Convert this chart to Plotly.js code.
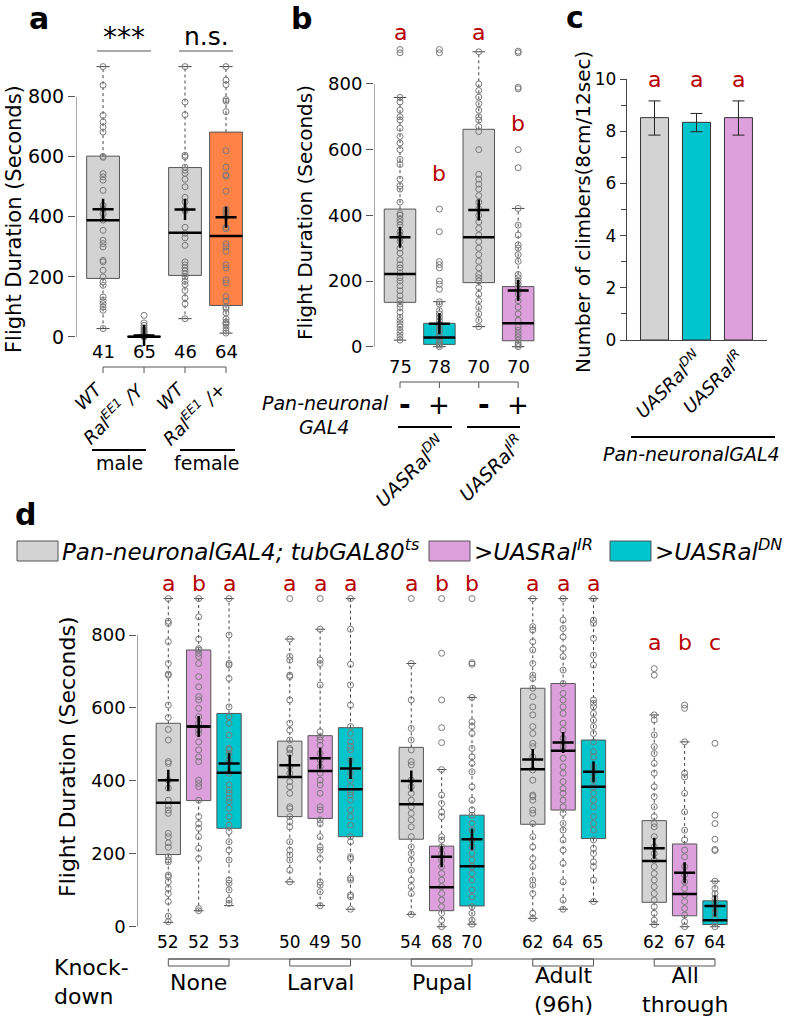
<!DOCTYPE html>
<html>
<head>
<meta charset="utf-8">
<script src="https://cdn.plot.ly/plotly-3.0.1.min.js"></script>
<style>
  html, body { margin: 0; padding: 0; background: #fff; }
  #fig { width: 787px; height: 1020px; }
</style>
</head>
<body>
<div id="fig"></div>
<script>
// ---- colours
const GRAY = '#d3d3d3', ORANGE = '#ff8247', CYAN = '#00c5cd', PLUM = '#dda0dd';
const RED = '#b80000';

// ---- panel a: flight duration, Ral EE1 mutants
const aPos = [1, 2, 3, 4];
const aN = [41, 65, 46, 64];
const aLabels = ['WT', 'Ral<sup>EE1</sup> /Y', 'WT', 'Ral<sup>EE1</sup> /+'];
const aColors = [GRAY, ORANGE, GRAY, ORANGE];
const aQ1 = [195, 0, 205, 105];
const aMed = [389, 1, 347, 336];
const aQ3 = [602, 3, 564, 682];
const aLo = [28, 0, 61, 13];
const aHi = [900, 8, 900, 900];
const aMean = [425, 5, 424, 399];
const aPts = [
  [900, 838, 738, 716, 699, 682, 601, 598, 544, 533, 522, 488, 438, 427, 410, 389, 355, 322, 311, 300, 255, 250, 222, 200, 183, 172, 133, 122, 111, 100, 89, 28],
  [72, 47, 39, 31, 25, 20, 16, 12, 9, 6, 4, 2, 1, 0],
  [900, 782, 740, 605, 600, 565, 555, 545, 525, 500, 465, 450, 425, 420, 365, 345, 330, 305, 250, 240, 230, 220, 210, 200, 185, 175, 155, 130, 110, 61],
  [900, 855, 840, 790, 785, 750, 620, 565, 540, 535, 485, 425, 415, 400, 365, 360, 310, 300, 285, 240, 230, 190, 180, 135, 120, 100, 95, 80, 60, 50, 45, 40, 30, 20, 13]
];

// ---- panel b: pan-neuronal Ral knock-down
const bPos = [1, 2, 3, 4];
const bN = [75, 78, 70, 70];
const bSigns = ['-', '+', '-', '+'];
const bLetters = ['a', 'b', 'a', 'b'];
const bColors = [GRAY, CYAN, GRAY, PLUM];
const bQ1 = [135, 7, 195, 18];
const bMed = [221, 28, 333, 71];
const bQ3 = [419, 71, 662, 183];
const bLo = [20, 0, 61, 0];
const bHi = [759, 137, 898, 421];
const bMean = [333, 70, 416, 171];
const bPts = [
  [905, 895, 759, 745, 720, 700, 690, 665, 640, 620, 600, 570, 555, 510, 490, 480, 440, 405, 400, 390, 380, 370, 350, 340, 330, 320, 300, 285, 265, 250, 240, 225, 210, 200, 185, 170, 155, 140, 130, 120, 105, 90, 80, 70, 60, 50, 40, 30, 20],
  [905, 895, 419, 350, 259, 250, 240, 200, 190, 175, 137, 130, 110, 100, 90, 80, 70, 60, 50, 40, 30, 20, 15, 10, 5, 0],
  [898, 800, 780, 760, 740, 720, 700, 690, 670, 655, 600, 525, 510, 495, 480, 460, 440, 420, 400, 380, 360, 340, 320, 300, 280, 260, 240, 220, 210, 200, 180, 160, 140, 120, 100, 80, 61],
  [900, 895, 790, 785, 600, 545, 421, 370, 340, 310, 300, 280, 260, 220, 210, 200, 190, 180, 160, 140, 120, 100, 80, 60, 50, 40, 30, 20, 10, 5, 0]
];
const bGenotypes = ['UASRal<sup>DN</sup>', 'UASRal<sup>IR</sup>'];

// ---- panel c: climbing
const cPos = [1, 2, 3];
const cMeans = [8.52, 8.34, 8.52];
const cErrUp = [0.64, 0.34, 0.64];
const cErrDown = [0.67, 0.36, 0.67];
const cColors = [GRAY, CYAN, PLUM];
const cLetters = ['a', 'a', 'a'];
const cLabels = ['', 'UASRal<sup>DN</sup>', 'UASRal<sup>IR</sup>'];

// ---- panel d: stage-specific knock-down
const dPos = [1, 2, 3, 5, 6, 7, 9, 10, 11, 13, 14, 15, 17, 18, 19];
const dN = [52, 52, 53, 50, 49, 50, 54, 68, 70, 62, 64, 65, 62, 67, 64];
const dLetters = ['a', 'b', 'a', 'a', 'a', 'a', 'a', 'b', 'b', 'a', 'a', 'a', 'a', 'b', 'c'];
const dColors = [GRAY, PLUM, CYAN, GRAY, PLUM, CYAN, GRAY, PLUM, CYAN, GRAY, PLUM, CYAN, GRAY, PLUM, CYAN];
const dGroups = ['None', 'Larval', 'Pupal', 'Adult<br>(96h)', 'All<br>through'];
const dQ1 = [198, 346, 270, 302, 297, 247, 240, 44, 57, 281, 320, 242, 67, 30, 6];
const dMed = [340, 549, 422, 411, 427, 377, 336, 108, 166, 432, 483, 384, 180, 90, 18];
const dQ3 = [558, 759, 585, 509, 524, 546, 492, 221, 306, 654, 667, 512, 291, 227, 71];
const dLo = [12, 44, 58, 123, 58, 48, 34, 0, 7, 23, 48, 69, 6, 0, 0];
const dHi = [900, 900, 900, 789, 816, 900, 722, 431, 629, 900, 900, 900, 581, 507, 125];
const dMean = [402, 549, 448, 443, 462, 434, 400, 192, 240, 459, 505, 425, 215, 148, 57];
const dPts = [
  [900, 838, 832, 782, 722, 693, 690, 608, 574, 541, 512, 453, 448, 402, 380, 347, 331, 320, 311, 256, 247, 230, 218, 192, 183, 178, 142, 137, 123, 105, 91, 69, 29, 14],
  [900, 850, 789, 763, 759, 750, 741, 722, 686, 658, 631, 622, 599, 576, 558, 539, 530, 507, 485, 466, 453, 402, 393, 384, 347, 302, 283, 270, 247, 215, 187, 50, 44],
  [900, 800, 722, 718, 681, 603, 576, 558, 526, 489, 485, 475, 457, 421, 389, 375, 366, 352, 343, 325, 302, 279, 261, 233, 210, 183, 128, 119, 101, 73, 64],
  [900, 789, 741, 731, 690, 686, 622, 558, 539, 512, 489, 485, 475, 439, 421, 398, 384, 366, 329, 324, 302, 288, 274, 233, 210, 197, 183, 155, 123],
  [900, 816, 731, 722, 663, 535, 521, 512, 498, 475, 457, 439, 421, 402, 389, 366, 329, 320, 293, 283, 247, 219, 210, 187, 123, 114, 96, 58],
  [900, 816, 720, 663, 608, 549, 530, 507, 494, 485, 457, 421, 402, 384, 370, 361, 347, 320, 302, 279, 247, 233, 192, 187, 133, 128, 87, 82, 48],
  [900, 722, 622, 544, 512, 485, 453, 444, 402, 384, 366, 347, 329, 311, 293, 274, 247, 219, 201, 183, 155, 128, 110, 91, 34],
  [900, 750, 622, 546, 505, 431, 361, 338, 315, 302, 247, 238, 219, 201, 183, 165, 146, 128, 110, 91, 73, 55, 37, 18, 0],
  [900, 724, 720, 629, 562, 549, 530, 489, 466, 448, 425, 384, 347, 320, 306, 283, 265, 238, 219, 201, 183, 165, 146, 128, 101, 82, 55, 37, 18, 7],
  [900, 823, 814, 782, 759, 722, 690, 681, 654, 631, 603, 581, 549, 530, 503, 494, 466, 430, 402, 361, 357, 347, 320, 311, 283, 247, 219, 187, 165, 128, 114, 91, 37, 23],
  [900, 841, 818, 795, 763, 741, 704, 667, 640, 622, 603, 585, 558, 539, 517, 494, 462, 439, 421, 398, 379, 366, 347, 329, 311, 283, 265, 238, 210, 174, 123, 73, 48],
  [900, 841, 832, 791, 745, 718, 622, 613, 603, 585, 567, 549, 530, 507, 480, 466, 439, 421, 402, 384, 366, 347, 329, 302, 283, 265, 238, 215, 201, 178, 165, 128, 69],
  [708, 690, 581, 567, 526, 494, 475, 448, 421, 384, 357, 329, 302, 283, 274, 247, 219, 201, 183, 165, 146, 128, 110, 91, 73, 55, 37, 18, 6],
  [608, 599, 507, 421, 411, 366, 315, 265, 238, 210, 192, 165, 142, 123, 105, 87, 69, 50, 32, 14, 0],
  [503, 306, 283, 240, 212, 209, 125, 105, 91, 78, 64, 50, 37, 23, 9, 0]
];
const legendNames = ['Pan-neuronalGAL4; tubGAL80<sup>ts</sup>', '>UASRal<sup>IR</sup>', '>UASRal<sup>DN</sup>'];
const legendColors = [GRAY, PLUM, CYAN];

// ---- page geometry (pixels -> paper)
const W = 787, H = 1020;
const px = v => v / W;
const py = v => 1 - v / H;
const FONT = 'DejaVu Sans';
const BOXW = 0.8;

let traces = [];
let shapes = [];
let annotations = [];

function ann(text, x, y, opts = {}) {
  annotations.push(Object.assign({
    text: text, x: x, y: y, xref: 'paper', yref: 'paper',
    showarrow: false, xanchor: 'center', yanchor: 'middle',
    font: {family: FONT, size: 18, color: 'black'}
  }, opts));
}

// box bodies with R-like whiskers, points, medians and mean crosses
function addBoxes(xa, ya, pos, q1, med, q3, lo, hi, mean, pts, colors) {
  pos.forEach((p, i) => {
    traces.push({
      type: 'box', xaxis: xa, yaxis: ya, x: [p],
      q1: [q1[i]], median: [med[i]], q3: [q3[i]],
      // whiskers are drawn separately (dashed), so fences sit on the box
      lowerfence: [q1[i]], upperfence: [q3[i]],
      width: BOXW, whiskerwidth: 0, boxpoints: false,
      fillcolor: colors[i], line: {color: '#555', width: 1},
      hoverinfo: 'skip', showlegend: false
    });
  });
  let wx = [], wy = [], cx = [], cy = [], px_ = [], py_ = [], mx = [], my = [];
  pos.forEach((p, i) => {
    wx.push(p, p, null, p, p, null);
    wy.push(q3[i], hi[i], null, q1[i], lo[i], null);
    cx.push(p - 0.16, p + 0.16, null, p - 0.16, p + 0.16, null);
    cy.push(hi[i], hi[i], null, lo[i], lo[i], null);
    pts[i].forEach(v => { px_.push(p); py_.push(v); });
    mx.push(p - BOXW / 2, p + BOXW / 2, null);
    my.push(med[i], med[i], null);
  });
  traces.push({type: 'scatter', mode: 'lines', xaxis: xa, yaxis: ya, x: wx, y: wy,
    line: {color: '#444', width: 1, dash: '3px,3px'}, hoverinfo: 'skip', showlegend: false});
  traces.push({type: 'scatter', mode: 'lines', xaxis: xa, yaxis: ya, x: cx, y: cy,
    line: {color: '#444', width: 1}, hoverinfo: 'skip', showlegend: false});
  traces.push({type: 'scatter', mode: 'markers', xaxis: xa, yaxis: ya, x: px_, y: py_, cliponaxis: false,
    marker: {symbol: 'circle-open', size: 6, color: '#7a7a7a', line: {width: 1}},
    hoverinfo: 'skip', showlegend: false});
  traces.push({type: 'scatter', mode: 'lines', xaxis: xa, yaxis: ya, x: mx, y: my,
    line: {color: 'black', width: 2.5}, hoverinfo: 'skip', showlegend: false});
  traces.push({type: 'scatter', mode: 'markers', xaxis: xa, yaxis: ya, x: pos, y: mean, cliponaxis: false,
    marker: {symbol: 'cross-thin', size: 15, color: 'black', line: {width: 2.5, color: 'black'}},
    hoverinfo: 'skip', showlegend: false});
}

function yLine(xa, ya, x0) {
  shapes.push({type: 'line', xref: xa, yref: ya, x0: x0, x1: x0, y0: 0, y1: 800,
    line: {color: '#555', width: 1}});
}

// ---------------- panel a
const aRange = [0.34, 4.6];
addBoxes('x', 'y', aPos, aQ1, aMed, aQ3, aLo, aHi, aMean, aPts, aColors);
yLine('x', 'y', aRange[0]);
ann('<b>a</b>', px(39), py(18), {font: {family: FONT, size: 30}});
ann('Flight Duration (Seconds)', px(14), py(219), {textangle: -90, font: {family: FONT, size: 21}});
ann('***', px(124), py(38), {font: {family: FONT, size: 28}});
ann('n.s.', px(206), py(37), {font: {family: FONT, size: 25}});
shapes.push({type: 'line', xref: 'paper', yref: 'paper', x0: px(97), x1: px(151), y0: py(51), y1: py(51), line: {color: '#555', width: 1.2}});
shapes.push({type: 'line', xref: 'paper', yref: 'paper', x0: px(179), x1: px(233), y0: py(51), y1: py(51), line: {color: '#555', width: 1.2}});
shapes.push({type: 'line', xref: 'x', yref: 'paper', x0: aPos[0], x1: aPos[aPos.length - 1], y0: py(367), y1: py(367), line: {color: '#555', width: 1}});
aPos.forEach((p, i) => {
  ann(String(aN[i]), p, py(351), {xref: 'x', font: {family: FONT, size: 18}});
  shapes.push({type: 'line', xref: 'x', yref: 'paper', x0: p, x1: p, y0: py(367), y1: py(373), line: {color: '#555', width: 1}});
  ann('<i>' + aLabels[i] + '</i>', p, py(374), {xref: 'x', xanchor: 'right', yanchor: 'top', xshift: 7,
    textangle: -45, font: {family: FONT, size: 18}});
});
shapes.push({type: 'line', xref: 'paper', yref: 'paper', x0: px(92), x1: px(146), y0: py(450), y1: py(450), line: {color: 'black', width: 2}});
shapes.push({type: 'line', xref: 'paper', yref: 'paper', x0: px(180), x1: px(235), y0: py(450), y1: py(450), line: {color: 'black', width: 2}});
ann('male', px(119), py(463), {font: {family: FONT, size: 19}});
ann('female', px(207), py(463), {font: {family: FONT, size: 19}});

// ---------------- panel b
const bRange = [0.34, 4.6];
addBoxes('x2', 'y2', bPos, bQ1, bMed, bQ3, bLo, bHi, bMean, bPts, bColors);
yLine('x2', 'y2', bRange[0]);
ann('<b>b</b>', px(301), py(18), {font: {family: FONT, size: 30}});
ann('Flight Duration (Seconds)', px(305), py(213), {textangle: -90, font: {family: FONT, size: 20}});
const bLetterY = [32, 173, 33, 123];
bPos.forEach((p, i) => {
  ann(bLetters[i], p, py(bLetterY[i]), {xref: 'x2', font: {family: FONT, size: 22, color: RED}});
  ann(String(bN[i]), p, py(366), {xref: 'x2', font: {family: FONT, size: 18}});
  shapes.push({type: 'line', xref: 'x2', yref: 'paper', x0: p, x1: p, y0: py(382), y1: py(388), line: {color: '#555', width: 1}});
  ann(bSigns[i] === '-' ? '<b>-</b>' : '+', p + (bSigns[i] === '-' ? 0.12 : 0), py(405),
    {xref: 'x2', font: {family: FONT, size: bSigns[i] === '-' ? 28 : 26}});
});
shapes.push({type: 'line', xref: 'x2', yref: 'paper', x0: bPos[0], x1: bPos[3], y0: py(382), y1: py(382), line: {color: '#555', width: 1}});
ann('<i>Pan-neuronal</i>', px(325), py(415), {yanchor: 'bottom', borderpad: 0, font: {family: FONT, size: 19}});
ann('<i>GAL4</i>', px(324), py(415), {yanchor: 'top', borderpad: 0, font: {family: FONT, size: 19}});
shapes.push({type: 'line', xref: 'paper', yref: 'paper', x0: px(398), x1: px(452), y0: py(427), y1: py(427), line: {color: 'black', width: 2}});
shapes.push({type: 'line', xref: 'paper', yref: 'paper', x0: px(467), x1: px(520), y0: py(427), y1: py(427), line: {color: 'black', width: 2}});
bGenotypes.forEach((g, i) => {
  ann('<i>' + g + '</i>', bPos[2 * i + 1], py(428), {xref: 'x2', xanchor: 'right', yanchor: 'top', xshift: 13,
    textangle: -45, font: {family: FONT, size: 19}});
});

// ---------------- panel c
traces.push({
  type: 'bar', xaxis: 'x3', yaxis: 'y3', x: cPos, y: cMeans, width: 0.667,
  marker: {color: cColors, line: {color: '#333', width: 1}},
  error_y: {type: 'data', symmetric: false, array: cErrUp, arrayminus: cErrDown,
    color: '#222', thickness: 1, width: 6},
  hoverinfo: 'skip', showlegend: false
});
ann('<b>c</b>', px(575), py(17), {font: {family: FONT, size: 30}});
ann('Number of climbers(8cm/12sec)', px(583), py(212), {textangle: -90, font: {family: FONT, size: 20}});
cPos.forEach((p, i) => {
  ann(cLetters[i], p, py(80), {xref: 'x3', font: {family: FONT, size: 22, color: RED}});
  if (cLabels[i]) {
    ann('<i>' + cLabels[i] + '</i>', p, py(343), {xref: 'x3', xanchor: 'right', yanchor: 'top', xshift: 13,
      textangle: -45, font: {family: FONT, size: 18}});
  }
});
shapes.push({type: 'line', xref: 'paper', yref: 'paper', x0: px(631), x1: px(775), y0: py(437), y1: py(437), line: {color: 'black', width: 2}});
ann('<i>Pan-neuronalGAL4</i>', px(691), py(454), {font: {family: FONT, size: 19}});

// ---------------- panel d
const dRange = [-0.0207, 19.6];
addBoxes('x4', 'y4', dPos, dQ1, dMed, dQ3, dLo, dHi, dMean, dPts, dColors);
yLine('x4', 'y4', dRange[0]);
ann('<b>d</b>', px(25), py(514), {font: {family: FONT, size: 30}});
ann('Flight Duration (Seconds)', px(67), py(757), {textangle: -90, font: {family: FONT, size: 22}});
dPos.forEach((p, i) => {
  const g = Math.floor(i / 3);
  ann(dLetters[i], p, py(g === 4 ? 642 : 583), {xref: 'x4', font: {family: FONT, size: 22, color: RED}});
  ann(String(dN[i]), p, py(942), {xref: 'x4', font: {family: FONT, size: 17}});
});
shapes.push({type: 'line', xref: 'x4', yref: 'paper', x0: dPos[0], x1: dPos[dPos.length - 1], y0: py(959), y1: py(959), line: {color: '#555', width: 1}});
dGroups.forEach((name, g) => {
  const first = dPos[3 * g], last = dPos[3 * g + 2], mid = dPos[3 * g + 1];
  shapes.push({type: 'rect', xref: 'x4', yref: 'paper', x0: first, x1: last, y0: py(966), y1: py(959),
    line: {color: '#555', width: 1}});
  const twoLines = name.indexOf('<br>') >= 0;
  ann(name, mid, py(twoLines ? 990 : 982), {xref: 'x4', font: {family: FONT, size: 22}});
});
ann('Knock-<br>down', px(52), py(982), {xanchor: 'left', align: 'left', font: {family: FONT, size: 22}});

// legend row
const legX = [17, 429, 610];
legendNames.forEach((name, i) => {
  shapes.push({type: 'rect', xref: 'paper', yref: 'paper', x0: px(legX[i]), x1: px(legX[i] + 41),
    y0: py(561), y1: py(541), fillcolor: legendColors[i], line: {color: '#555', width: 1}});
  ann('<i>' + name + '</i>', px(legX[i] + 43), py(550), {xanchor: 'left', font: {family: FONT, size: 23}});
});

// ---------------- axes
const yBase = {showgrid: false, zeroline: false, showline: false, ticks: 'outside', ticklen: 7,
  tickcolor: '#555', tickwidth: 1, tickvals: [0, 200, 400, 600, 800], fixedrange: true};
const xHidden = {visible: false, fixedrange: true};

const layout = {
  width: W, height: H, autosize: false,
  margin: {l: 0, r: 0, t: 0, b: 0},
  paper_bgcolor: 'white', plot_bgcolor: 'rgba(0,0,0,0)',
  font: {family: FONT, color: 'black'},
  boxmode: 'overlay', showlegend: false,
  xaxis: Object.assign({}, xHidden, {anchor: 'y', domain: [px(76), px(250.6)], range: aRange}),
  yaxis: Object.assign({}, yBase, {anchor: 'x', domain: [py(341.5), py(54.6)], range: [-15, 940], tickfont: {size: 19}}),
  xaxis2: Object.assign({}, xHidden, {anchor: 'y2', domain: [px(374), px(541.8)], range: bRange}),
  yaxis2: Object.assign({}, yBase, {anchor: 'x2', domain: [py(351.6), py(38)], range: [-15, 940], tickfont: {size: 18}}),
  xaxis3: {anchor: 'y3', domain: [px(626.7), px(767)], range: [0.338, 3.68], showline: true, linecolor: '#444',
    ticks: '', showticklabels: false, showgrid: false, zeroline: false, fixedrange: true},
  yaxis3: {anchor: 'x3', domain: [py(340), py(79)], range: [0, 10], showline: true, linecolor: '#444',
    ticks: 'outside', ticklen: 6, tickcolor: '#444', tickvals: [0, 2, 4, 6, 8, 10],
    minor: {tickvals: [1, 3, 5, 7, 9], ticks: 'outside', ticklen: 5, tickcolor: '#444'},
    showgrid: false, zeroline: false, tickfont: {size: 17}, fixedrange: true},
  xaxis4: Object.assign({}, xHidden, {anchor: 'y4', domain: [px(137.3), px(733.2)], range: dRange}),
  yaxis4: Object.assign({}, yBase, {anchor: 'x4', domain: [py(932.2), py(591.3)], range: [-15, 920], tickfont: {size: 18}}),
  shapes: shapes,
  annotations: annotations
};

Plotly.newPlot('fig', traces, layout, {staticPlot: true, displayModeBar: false});
</script>
</body>
</html>
